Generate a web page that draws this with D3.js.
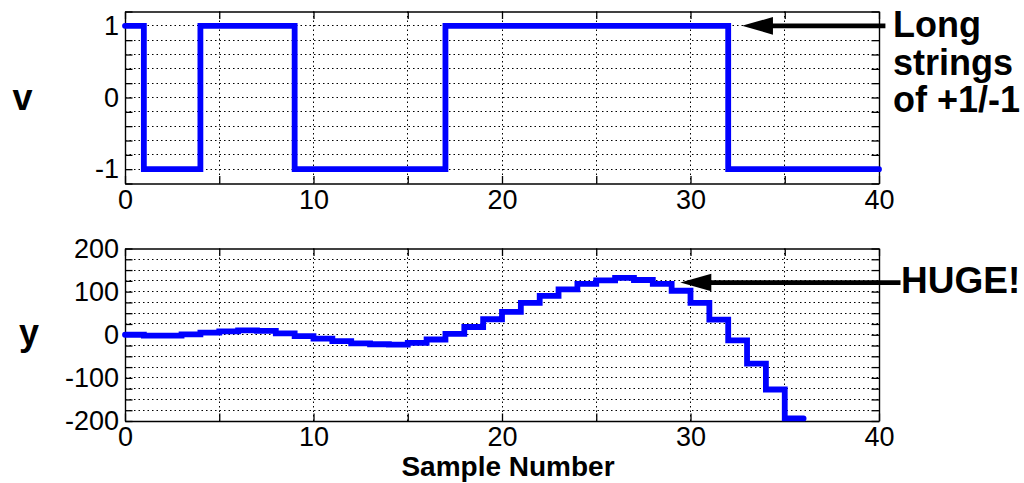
<!DOCTYPE html>
<html><head><meta charset="utf-8">
<script src="https://cdn.jsdelivr.net/npm/d3@7"></script>
<style>
body{margin:0;background:#fff}
text{font-family:"Liberation Sans",Arial,Helvetica,sans-serif}
</style>
</head><body>
<svg id="c" width="1024" height="483"></svg>
<script>
// ---- data ----
const vValues = [1,-1,-1,-1,1,1,1,1,1,-1,-1,-1,-1,-1,-1,-1,-1,
  1,1,1,1,1,1,1,1,1,1,1,1,1,1,1,
  -1,-1,-1,-1,-1,-1,-1,-1,-1];
const yValues = [0,-2,-2,1,5,8,10,9,3,-3,-9,-15,-20,-22,-23,-19,-11,2,18,36,53,74,90,
  105,118,126,132,127,118,102,74,35,-13,-67,-127,-194,-194];
const xTicks = [0,5,10,15,20,25,30,35,40];
const xTickLabels = [0,10,20,30,40];
const vTicks = [-1.2,-1,-0.8,-0.6,-0.4,-0.2,0,0.2,0.4,0.6,0.8,1,1.2];
const vTickLabels = [-1,0,1];
const yTicks = [-200,-175,-150,-125,-100,-75,-50,-25,0,25,50,75,100,125,150,175,200];
const yTickLabels = [-200,-100,0,100,200];
const xLabel = "Sample Number";
const annotations = [
  {panel:0, tipX:32.73, tipY:1, tailX:40.34, lines:["Long","strings","of +1/-1"]},
  {panel:1, tipX:29.46, tipY:121, tailX:41.14, lines:["HUGE!"]}
];

// ---- layout ----
const svg = d3.select("#c");
const x = d3.scaleLinear().domain([0,40]).range([125,879]);
const panels = [
  {values:vValues, ticks:vTicks, labels:vTickLabels, domain:[-1.2,1.2], top:11.5, bottom:183.5, name:"v", nameX:22.5, nameY:110},
  {values:yValues, ticks:yTicks, labels:yTickLabels, domain:[-200,200], top:248.5, bottom:421, name:"y", nameX:29, nameY:345}
];
const FONT = 27, TICK = 7.5;
const has = (arr, d) => arr.some(a => Math.abs(a - d) < 1e-9);
const crisp = v => Math.round(v - 0.5) + 0.5;

panels.forEach((p, pi) => {
  const y = d3.scaleLinear().domain(p.domain).range([p.bottom, p.top]);
  p.y = y;
  const g = svg.append("g");
  // grid
  const grid = g.append("g").attr("stroke","#000").attr("stroke-width",1).attr("stroke-dasharray","1.5,3").attr("fill","none");
  grid.selectAll("line.v").data(xTicks.filter(d => d > 0 && d < 40)).join("line")
    .attr("x1", d => crisp(x(d))).attr("x2", d => crisp(x(d))).attr("y1", p.top).attr("y2", p.bottom);
  grid.selectAll("line.h").data(p.ticks.filter(d => d > p.domain[0] && d < p.domain[1])).join("line")
    .attr("y1", d => crisp(y(d))).attr("y2", d => crisp(y(d))).attr("x1", x(0)).attr("x2", x(40));

  // axes
  const styleAxis = sel => {
    sel.attr("font-size", FONT).attr("font-family", '"Liberation Sans",Arial,sans-serif');
    sel.select(".domain").attr("stroke","#000").attr("stroke-width",1.4);
    sel.selectAll(".tick line").attr("stroke","#000").attr("stroke-width",1.3);
    sel.selectAll(".tick text").attr("fill","#000");
  };
  g.append("g").attr("transform",`translate(0,${p.bottom})`)
    .call(d3.axisBottom(x).tickValues(xTicks).tickSizeInner(-TICK).tickSizeOuter(0).tickPadding(6)
      .tickFormat(d => has(xTickLabels,d) ? String(d) : "")).call(styleAxis);
  g.append("g").attr("transform",`translate(0,${p.top})`)
    .call(d3.axisTop(x).tickValues(xTicks).tickSizeInner(-TICK).tickSizeOuter(0).tickFormat(() => "")).call(styleAxis);
  g.append("g").attr("transform",`translate(${x(0)},0)`)
    .call(d3.axisLeft(y).tickValues(p.ticks).tickSizeInner(-TICK).tickSizeOuter(0).tickPadding(6)
      .tickFormat(d => has(p.labels,d) ? String(Math.round(d)) : "")).call(styleAxis);
  g.append("g").attr("transform",`translate(${x(40)},0)`)
    .call(d3.axisRight(y).tickValues(p.ticks).tickSizeInner(-TICK).tickSizeOuter(0).tickFormat(() => "")).call(styleAxis);

  // series
  const line = d3.line().x((d,i) => x(i)).y(d => y(d)).curve(d3.curveStepAfter);
  g.append("path").datum(p.values).attr("d", line)
    .attr("fill","none").attr("stroke","#0000ff").attr("stroke-width",5.8)
    .attr("stroke-linecap","round").attr("stroke-linejoin","miter");

  // panel name
  g.append("text").attr("x", p.nameX).attr("y", p.nameY).attr("text-anchor","middle")
    .attr("font-size",36).attr("font-weight","bold").text(p.name);
});

// x label
svg.append("text").attr("x",508).attr("y",476).attr("text-anchor","middle")
  .attr("font-size",28).attr("font-weight","bold").text(xLabel);

// annotations
annotations.forEach(a => {
  const p = panels[a.panel];
  const tx = x(a.tipX), ty = p.y(a.tipY), ex = x(a.tailX);
  const headL = 31, headW = 8.8;
  svg.append("line").attr("x1", tx + headL - 2).attr("x2", ex).attr("y1", ty).attr("y2", ty)
    .attr("stroke","#000").attr("stroke-width",4.7);
  svg.append("path").attr("d", `M${tx},${ty} L${tx+headL},${ty-headW} L${tx+headL},${ty+headW} Z`).attr("fill","#000");
});
annotations[0].lines.forEach((s,i) => {
  svg.append("text").attr("x",893).attr("y",37 + i*37.5).attr("font-size",36).attr("font-weight","bold").text(s);
});
svg.append("text").attr("x",901).attr("y",293).attr("font-size",37).attr("font-weight","bold").text(annotations[1].lines[0]);
</script>
</body></html>
